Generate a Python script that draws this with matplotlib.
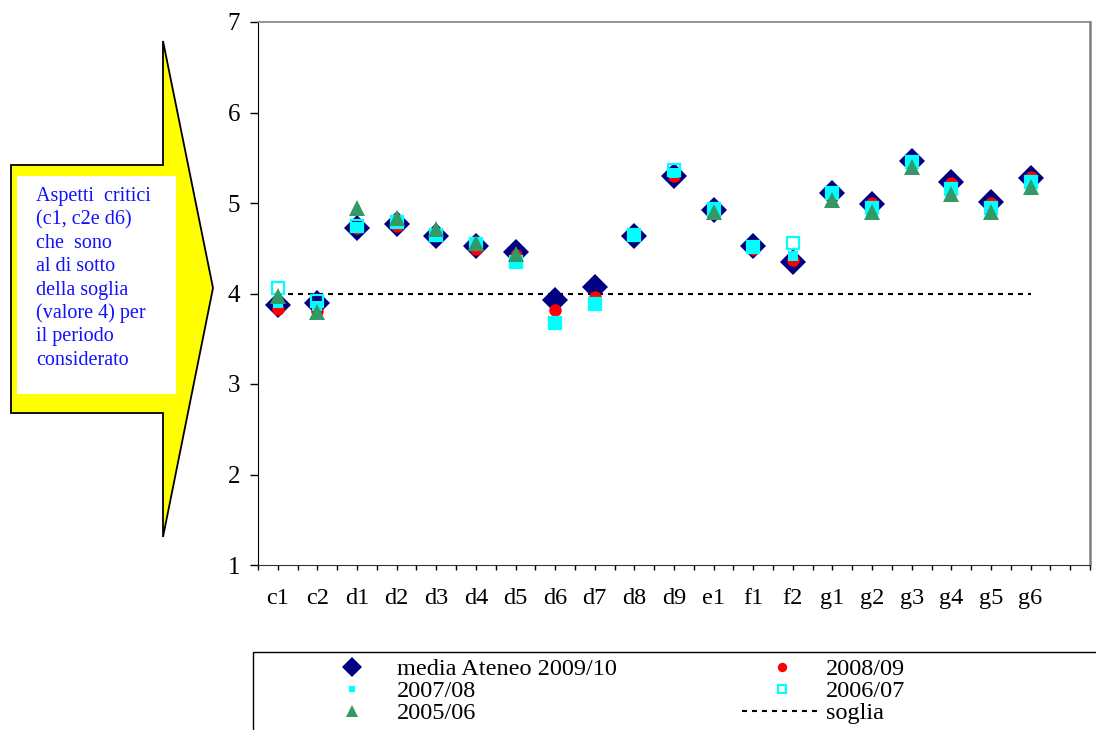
import numpy as np
import matplotlib.pyplot as plt
from matplotlib.patches import Polygon, Rectangle

nan = np.nan

# categorie (domande) e valori medi per anno
categorie = ['c1', 'c2', 'd1', 'd2', 'd3', 'd4', 'd5', 'd6', 'd7', 'd8',
             'd9', 'e1', 'f1', 'f2', 'g1', 'g2', 'g3', 'g4', 'g5', 'g6']
media_2009_10 = [3.87, 3.89, 4.72, 4.77, 4.64, 4.53, 4.46, 3.93, 4.07, 4.64,
                 5.30, 4.92, 4.53, 4.35, 5.11, 4.99, 5.46, 5.23, 5.01, 5.28]
val_2008_09 = [3.83, 3.81, 4.72, 4.75, 4.63, 4.49, 4.42, 3.82, 3.96, 4.66,
               5.30, 4.92, 4.49, 4.37, 5.07, 5.00, 5.43, 5.22, 5.00, 5.29]
val_2007_08 = [3.90, 3.86, 4.73, 4.79, 4.65, 4.55, 4.35, 3.67, 3.88, 4.65,
               5.33, 4.93, 4.51, 4.41, 5.11, 4.94, 5.45, 5.16, 4.94, 5.23]
val_2006_07 = [4.06, 3.92, 4.75, 4.79, 4.65, 4.55, 4.35, 3.67, 3.88, 4.65,
               5.36, 4.93, 4.51, 4.56, 5.11, 4.94, 5.45, 5.16, 4.94, 5.23]
val_2005_06 = [3.97, 3.80, 4.94, 4.83, 4.71, 4.56, 4.44, nan, nan, nan,
               nan, 4.90, nan, nan, 5.03, 4.90, 5.40, 5.10, 4.90, 5.18]
soglia = 4

testo_freccia = ['Aspetti  critici', '(c1, c2e d6)', 'che  sono', 'al di sotto',
                 'della soglia', '(valore 4) per', 'il periodo', 'considerato']

plt.rcParams['font.family'] = ['Liberation Serif', 'DejaVu Serif']

fig = plt.figure(figsize=(10.96, 7.3), dpi=100)
ax = fig.add_axes([258/1096, 1 - 565/730, 832/1096, 543/730])

x = np.arange(len(categorie))

h_soglia, = ax.plot([x[0], x[-1]], [soglia, soglia], color='black', lw=1.5,
                    linestyle=(0, (2.4, 2.4)), label='soglia', zorder=2)
h_media, = ax.plot(x, media_2009_10, 'D', color='#000080', ms=13, mew=0,
                   label='media Ateneo 2009/10', zorder=3)
h_0809, = ax.plot(x, val_2008_09, 'o', color='#FF0000', ms=9, mew=0,
                  label='2008/09', zorder=4)
h_0708, = ax.plot(x, val_2007_08, 's', color='#00FFFF', ms=6.5, mew=0,
                  label='2007/08', zorder=5)
h_0607, = ax.plot(x, val_2006_07, 's', mfc='none', mec='#00FFFF', ms=8.5, mew=1.6,
                  label='2006/07', zorder=6)
h_0506, = ax.plot(x, val_2005_06, '^', color='#339966', ms=12, mew=0,
                  label='2005/06', zorder=7)

ax.set_xlim(-0.5, 20.5)
ax.set_ylim(1, 7)
ax.set_yticks(range(1, 8))
ax.set_xticks(x)
ax.set_xticklabels(categorie)
ax.set_xticks(np.arange(-0.5, 20.6, 0.5), minor=True)
ax.tick_params(axis='y', direction='out', length=6, width=1, pad=7, labelsize=18)
ax.tick_params(axis='x', which='both', direction='out', length=3.6, width=1,
               pad=13, labelsize=17.5)

for s in ['top', 'right']:
    ax.spines[s].set_color('#808080')
ax.spines['top'].set_linewidth(1.2)
ax.spines['right'].set_linewidth(1.8)
ax.spines['left'].set_color('black')
ax.spines['bottom'].set_color('#333333')

# legenda: due colonne
leg_kw = dict(frameon=False, fontsize=17.5, handlelength=3.3, borderpad=0,
              borderaxespad=0, labelspacing=0.0, loc='upper left',
              markerscale=0.75)
leg1 = fig.legend([h_media, h_0708, h_0506],
                  ['media Ateneo 2009/10', '2007/08', '2005/06'],
                  bbox_to_anchor=(312/1096, 1 - 658/730), handletextpad=0.2,
                  **leg_kw)
leg2 = fig.legend([h_0809, h_0607, h_soglia],
                  ['2008/09', '2006/07', 'soglia'],
                  bbox_to_anchor=(742/1096, 1 - 658/730), handletextpad=0.15,
                  **leg_kw)
fig.patches.append(Rectangle((253/1096, -0.05), 0.8, 1 - 652/730 + 0.05,
                             transform=fig.transFigure, fill=False,
                             edgecolor='black', lw=1, zorder=0))

# freccia gialla con riquadro di testo
freccia = [(11, 165), (163, 165), (163, 41), (213, 288), (163, 537),
           (163, 413), (11, 413)]
fig.patches.append(Polygon([(px/1096, 1 - py/730) for px, py in freccia],
                           closed=True, transform=fig.transFigure,
                           facecolor='#FFFF00', edgecolor='black', lw=1.3))
fig.patches.append(Rectangle((17/1096, 1 - 394/730), 159/1096, 218/730,
                             transform=fig.transFigure, facecolor='white',
                             edgecolor='none'))
for i, riga in enumerate(testo_freccia):
    fig.text(36/1096, 1 - (197 + i*23.3)/730, riga, color='#1010FF',
             fontsize=14.5, va='center', ha='left')

fig.savefig('out.png', dpi=100)
